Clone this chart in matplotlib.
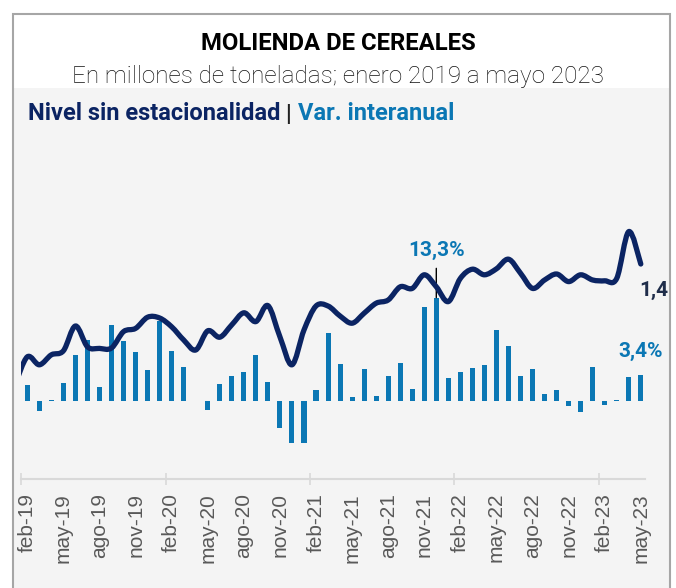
import numpy as np
import matplotlib
matplotlib.use('Agg')
import matplotlib.pyplot as plt
from matplotlib.path import Path
from matplotlib.patches import PathPatch, Rectangle

# Data: ene-19 .. may-23 (level, Mt, seasonally adjusted)
nivel = [1.100, 1.168, 1.148, 1.173, 1.183, 1.245, 1.193, 1.189, 1.190, 1.231,
         1.239, 1.267, 1.265, 1.243, 1.210, 1.185, 1.233, 1.217, 1.248, 1.278,
         1.256, 1.296, 1.218, 1.148, 1.235, 1.295, 1.295, 1.270, 1.252, 1.277,
         1.302, 1.310, 1.343, 1.339, 1.373, 1.343, 1.306, 1.364, 1.387, 1.373,
         1.388, 1.412, 1.377, 1.339, 1.360, 1.375, 1.356, 1.373, 1.360, 1.358,
         1.364, 1.481, 1.400]

# feb-19 .. may-23 (year-on-year change, %)
var_ia = [2.0, -1.25, 0.1, 2.36, 5.96, 7.85, 1.85, 9.74, 7.72, 6.3,
          4.03, 10.3, 6.43, 4.33, 0.0, -1.16, 2.19, 3.22, 3.73, 5.88,
          2.4, -3.52, -5.36, -5.36, 1.42, 8.71, 4.72, 0.56, 4.08, 0.64,
          3.26, 4.85, 1.5, 12.14, 13.3, 3.0, 3.78, 4.29, 4.63, 9.14,
          7.12, 3.26, 4.16, 0.94, 1.46, -0.6, -1.37, 4.42, -0.56, 0.15,
          3.13, 3.4]

tick_labels = ['feb-19', 'may-19', 'ago-19', 'nov-19', 'feb-20', 'may-20',
               'ago-20', 'nov-20', 'feb-21', 'may-21', 'ago-21', 'nov-21',
               'feb-22', 'may-22', 'ago-22', 'nov-22', 'feb-23', 'may-23']

W, H = 676, 588
NAVY = '#0b2463'
BLUE = '#0b77b4'

fig = plt.figure(figsize=(W / 100, H / 100), dpi=100)


def fx(px):
    return px / W


def fy(py):
    return 1 - py / H


# frame and gray panel (behind the axes)
fig.patches.append(Rectangle((fx(13), fy(H + 5)), fx(657), (H + 5 - 88) / H,
                             transform=fig.transFigure, facecolor='#f4f4f4',
                             edgecolor='none', zorder=-3))
fig.patches.append(Rectangle((fx(13), fy(H + 5)), fx(657), (H + 5 - 14) / H,
                             transform=fig.transFigure, facecolor='none',
                             edgecolor='#a6a6a6', lw=1.5, zorder=-2))

fig.text(fx(338), fy(50.5), 'MOLIENDA DE CEREALES', ha='center', va='baseline',
         fontsize=17.2, fontweight='bold', family='Roboto', color='black')
fig.text(fx(338), fy(83), 'En millones de toneladas; enero 2019 a mayo 2023',
         ha='center', va='baseline', fontsize=17.5, fontweight='light',
         family='Roboto', color='#111111')

# legend line made of colored pieces
renderer = fig.canvas.get_renderer()
x0 = fx(28)
pieces = [('Nivel sin estacionalidad', NAVY), (' | ', '#222222'), ('Var. interanual', BLUE)]
for txt, col in pieces:
    t = fig.text(x0, fy(120.5), txt, ha='left', va='baseline', fontsize=17,
                 fontweight='bold', family='Roboto', color=col)
    bb = t.get_window_extent(renderer=renderer)
    x0 = bb.x1 / W

# axes placement (pixels)
left, right, top, bottom = 21.3, 645.0, 130, 479
ax = fig.add_axes([fx(left), fy(bottom), (right - left) / W, (bottom - top) / H])
ax.patch.set_alpha(0)
ax2 = ax.twinx()
ax2.patch.set_alpha(0)

x_bar = np.arange(len(var_ia))
ax.bar(x_bar, var_ia, width=0.42, color=BLUE, zorder=2)
ax.set_xlim(-0.5, 51.35)
ax.set_ylim(-10.04, 34.88)

# smooth line (Catmull-Rom as cubic Bezier)
x_line = np.arange(-1, len(nivel) - 1, dtype=float)
pts = np.column_stack([x_line, nivel])
ext = np.vstack([pts[0], pts, pts[-1]])
verts = [tuple(pts[0])]
codes = [Path.MOVETO]
for i in range(len(pts) - 1):
    p0, p1, p2, p3 = ext[i], ext[i + 1], ext[i + 2], ext[i + 3]
    c1 = p1 + (p2 - p0) / 6
    c2 = p2 - (p3 - p1) / 6
    verts += [tuple(c1), tuple(c2), tuple(p2)]
    codes += [Path.CURVE4] * 3
ax2.add_patch(PathPatch(Path(verts, codes), facecolor='none', edgecolor=NAVY,
                        lw=3.8, capstyle='round', joinstyle='round', zorder=3))
ax2.set_ylim(0.8625, 1.735)

for a in (ax, ax2):
    for s in a.spines.values():
        s.set_visible(False)
ax2.set_yticks([])
ax.set_yticks([])
ax.spines['bottom'].set_visible(True)
ax.spines['bottom'].set_color('#d9d9d9')
ax.spines['bottom'].set_linewidth(1.5)

ax.set_xticks(np.arange(0, len(var_ia), 3), tick_labels, rotation=90,
              fontsize=15, family='Liberation Sans', color='#595959')
ax.tick_params(axis='x', which='major', length=0, pad=10)
ax.set_xticks(np.arange(-0.5, len(var_ia), 12), minor=True)
ax.tick_params(axis='x', which='minor', length=8, width=1.2, direction='inout',
               color='#d9d9d9')

# annotations
imax = int(np.argmax(var_ia))
ax.annotate(f'{var_ia[imax]:.1f}%'.replace('.', ','), xy=(imax, var_ia[imax]),
            xytext=(0, 34), textcoords='offset points', ha='center', va='center',
            fontsize=15, fontweight='bold', family='Roboto', color=BLUE,
            arrowprops=dict(arrowstyle='-', color='black', lw=1, shrinkA=4, shrinkB=0),
            zorder=5)
ax.annotate(f'{var_ia[-1]:.1f}%'.replace('.', ','), xy=(x_bar[-1], var_ia[-1]),
            xytext=(0, 17), textcoords='offset points', ha='center', va='center',
            fontsize=15, fontweight='bold', family='Roboto', color=BLUE)
ax2.annotate(f'{nivel[-1]:.1f}'.replace('.', ','), xy=(x_line[-1], nivel[-1]),
             xytext=(9, -19), textcoords='offset points', ha='center', va='center',
             fontsize=15, fontweight='bold', family='Roboto', color='#1f2d4a',
             annotation_clip=False)

fig.savefig('out.png', dpi=100)
